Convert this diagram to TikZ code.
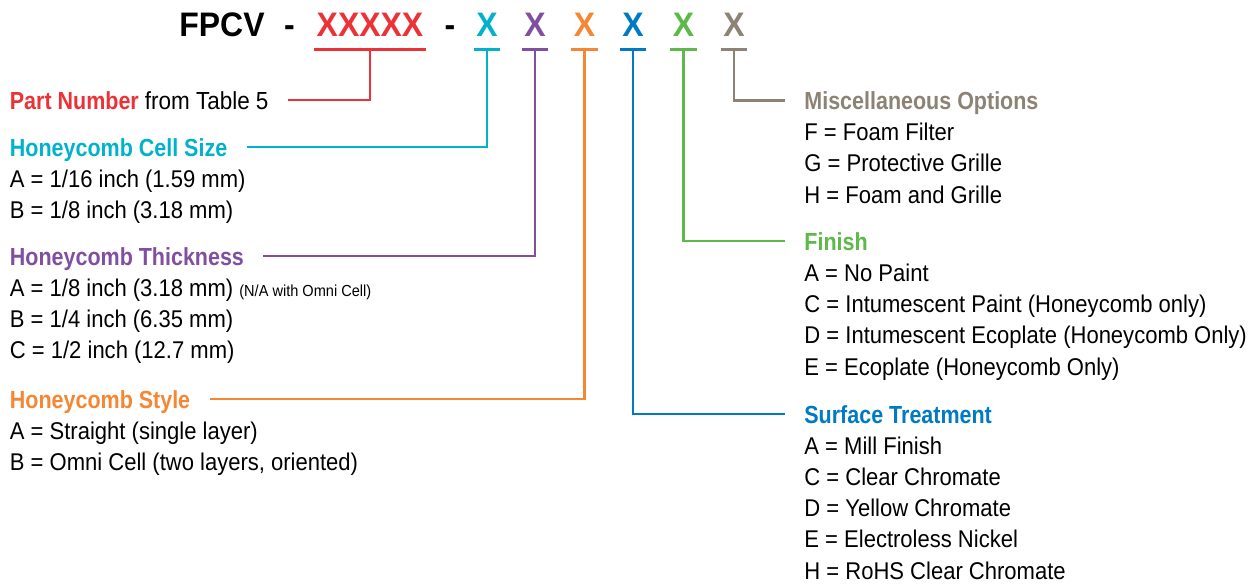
\documentclass[tikz,border=0pt]{standalone}
\usepackage{fontspec}
\newfontfamily\bodyfont{Liberation Sans}[FakeStretch=0.91]
\newfontfamily\headfont{Liberation Sans}[FakeStretch=0.87]
\newfontfamily\titlefont{Liberation Sans}[FakeStretch=0.94]

\definecolor{pnred}{RGB}{237,50,55}
\definecolor{cellcyan}{RGB}{0,178,202}
\definecolor{thickpurple}{RGB}{127,79,160}
\definecolor{styleorange}{RGB}{245,134,52}
\definecolor{surfblue}{RGB}{0,122,194}
\definecolor{finishgreen}{RGB}{94,184,74}
\definecolor{miscgray}{RGB}{140,130,117}

\tikzset{
  code/.style={anchor=base, inner xsep=1.05pt, inner ysep=0pt, font=\titlefont\bfseries\fontsize{17}{20}\selectfont},
  head/.style={anchor=base west, inner sep=0pt, font=\headfont\bfseries\fontsize{12.35}{15}\selectfont},
  item/.style={anchor=base west, inner sep=0pt, font=\bodyfont\fontsize{12.1}{15}\selectfont},
  leader/.style={line width=1.25pt},
}

\begin{document}
\begin{tikzpicture}[x=0.5pt,y=-0.5pt]
\useasboundingbox (0,0) rectangle (1249,586);
% ordering code
\node[code] (fpcv) at (222,36) {FPCV};
\node[code] (dash1) at (289.5,36) {-};
\node[code,text=pnred] (xpart) at (370,36) {XXXXX};
\node[code] (dash2) at (450,36) {-};
\node[code,text=cellcyan] (xcell) at (487,36) {X};
\node[code,text=thickpurple] (xthick) at (535,36) {X};
\node[code,text=styleorange] (xstyle) at (584.5,36) {X};
\node[code,text=surfblue] (xsurf) at (633,36) {X};
\node[code,text=finishgreen] (xfinish) at (683.5,36) {X};
\node[code,text=miscgray] (xmisc) at (734,36) {X};

% left column
\node[head,text=pnred] (hpart) at (9.5,109) {Part Number \bodyfont\mdseries\textcolor{black}{from Table 5}};
\node[head,text=cellcyan] (hcell) at (9.5,156) {Honeycomb Cell Size};
\foreach \t [count=\i] in {A = 1/16 inch (1.59 mm), B = 1/8 inch (3.18 mm)}
  \node[item] (cell\i) at (9.5,{156+31.3*\i}) {\t};
\node[head,text=thickpurple] (hthick) at (9.5,265) {Honeycomb Thickness};
\foreach \t [count=\i] in {{A = 1/8 inch (3.18 mm) {\fontsize{8}{10}\selectfont (N/A with Omni Cell)}}, B = 1/4 inch (6.35 mm), C = 1/2 inch (12.7 mm)}
  \node[item] (thick\i) at (9.5,{265+31.3*\i}) {\t};
\node[head,text=styleorange] (hstyle) at (9.5,408) {Honeycomb Style};
\foreach \t [count=\i] in {A = Straight (single layer), {B = Omni Cell (two layers, oriented)}}
  \node[item] (style\i) at (9.5,{408+31.3*\i}) {\t};

% right column
\node[head,text=miscgray] (hmisc) at (804,109.3) {Miscellaneous Options};
\foreach \t [count=\i] in {F = Foam Filter, G = Protective Grille, H = Foam and Grille}
  \node[item] (misc\i) at (804,{109.3+31.3*\i}) {\t};
\node[head,text=finishgreen] (hfinish) at (804,250) {Finish};
\foreach \t [count=\i] in {A = No Paint, C = Intumescent Paint (Honeycomb only), D = Intumescent Ecoplate (Honeycomb Only), E = Ecoplate (Honeycomb Only)}
  \node[item] (finish\i) at (804,{250+31.3*\i}) {\t};
\node[head,text=surfblue] (hsurf) at (804,423) {Surface Treatment};
\foreach \t [count=\i] in {A = Mill Finish, C = Clear Chromate, D = Yellow Chromate, E = Electroless Nickel, H = RoHS Clear Chromate}
  \node[item] (surf\i) at (804,{423+31.2*\i}) {\t};

% underlines and leaders
\foreach \x/\c in {xpart/pnred, xcell/cellcyan, xthick/thickpurple, xstyle/styleorange, xsurf/surfblue, xfinish/finishgreen, xmisc/miscgray}
  \draw[leader,\c] ([yshift=-6.65pt]\x.south west) -- ([yshift=-6.65pt]\x.south east);
\foreach \x/\h/\c in {xpart/hpart/pnred, xcell/hcell/cellcyan, xthick/hthick/thickpurple, xstyle/hstyle/styleorange}
  \draw[leader,\c] ([yshift=-6.65pt]\x.south) |- ([xshift=9.5pt,yshift=4.5pt]\h.base east);
\foreach \x/\h/\c in {xsurf/hsurf/surfblue, xfinish/hfinish/finishgreen, xmisc/hmisc/miscgray}
  \draw[leader,\c] ([yshift=-6.65pt]\x.south) |- ([xshift=-9.5pt,yshift=4.5pt]\h.base west);
\end{tikzpicture}
\end{document}
